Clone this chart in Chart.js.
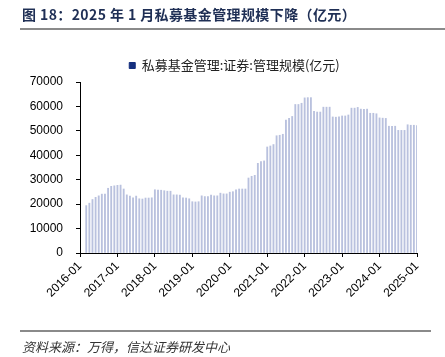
<!DOCTYPE html>
<html>
<head>
<meta charset="utf-8">
<script src="https://cdn.jsdelivr.net/npm/chart.js@4.4.1/dist/chart.umd.min.js"></script>
<style>
  html, body { margin: 0; padding: 0; background: #fff; }
  #wrap { position: relative; width: 445px; height: 357px; overflow: hidden; }
  #title { position: absolute; left: 22px; top: 4px; font: bold 14px "Noto Sans CJK SC", sans-serif; color: #1f2f55; white-space: nowrap; letter-spacing: 0.4px; }
  #topline { position: absolute; left: 20px; top: 28px; width: 425px; height: 2px; background: #8a8a8a; }
  #botline { position: absolute; left: 20px; top: 330px; width: 411px; height: 1.5px; background: #8a8a8a; }
  #source { position: absolute; left: 22px; top: 337px; font: italic 13px "Noto Sans CJK SC", sans-serif; color: #333; white-space: nowrap; }
  canvas { position: absolute; left: 0; top: 0; }
</style>
</head>
<body>
<div id="wrap">
  <canvas id="c" width="445" height="357"></canvas>
  <div id="title">图 18：2025 年 1 月私募基金管理规模下降（亿元）</div>
  <div id="topline"></div>
  <div id="botline"></div>
  <div id="source">资料来源：万得，信达证券研发中心</div>
</div>
<script>
// ---- data ----
const seriesName = "私募基金管理:证券:管理规模(亿元)";
const years = ["2016","2017","2018","2019","2020","2021","2022","2023","2024","2025"];
const monthNums = ["01","02","03","04","05","06","07","08","09","10","11","12"];
const tickLabels = ["2016-01","2017-01","2018-01","2019-01","2020-01","2021-01","2022-01","2023-01","2024-01","2025-01"];

const v2016 = [null, null, 19400, 20400, 21900, 22800, 23400, 24100, 24100, 26500, 27300, 27500];
const v2017 = [27700, 27800, 26200, 23800, 23300, 22600, 23300, 22200, 22100, 22500, 22500, 22600];
const v2018 = [25900, 25800, 25700, 25500, 25300, 25300, 23800, 23800, 23700, 22600, 22500, 22200];
const v2019 = [21000, 20900, 21000, 23400, 23100, 23100, 23700, 23400, 23400, 24500, 24200, 24200];
const v2020 = [24900, 25100, 25900, 26200, 26200, 26200, 30700, 31400, 31800, 36700, 37400, 37700];
const v2021 = [43400, 43800, 44400, 48000, 48200, 48600, 54400, 55100, 55900, 60800, 60800, 61300];
const v2022 = [63500, 63600, 63600, 58000, 57700, 57700, 59700, 59700, 59700, 55700, 55600, 55700];
const v2023 = [56100, 56100, 56500, 59300, 59300, 59600, 58900, 58800, 58900, 57200, 57200, 57000];
const v2024 = [55300, 55200, 55100, 51900, 51900, 51900, 50200, 50200, 50200, 52500, 52300, 52300];
const v2025 = [52200];

// ---- build tables for the library ----
const yearValues = [v2016, v2017, v2018, v2019, v2020, v2021, v2022, v2023, v2024, v2025];
const categories = [];
const values = [];
years.forEach((y, yi) => {
  yearValues[yi].forEach((val, mi) => {
    categories.push(y + "-" + monthNums[mi]);
    values.push(val);
  });
});

const shiftLegend = {
  id: "shiftLegend",
  afterLayout(chart) {
    if (chart.legend) { chart.legend.left += 16; chart.legend.right += 16; }
  }
};

const chart = new Chart(document.getElementById("c"), {
  type: "bar",
  data: {
    labels: categories,
    datasets: [{
      label: seriesName,
      data: values,
      backgroundColor: "#b9c1de",
      borderWidth: 0,
      barThickness: 1.2
    }]
  },
  plugins: [shiftLegend],
  options: {
    responsive: false,
    animation: false,
    devicePixelRatio: 1,
    layout: { padding: { left: 20, right: 28, top: 55, bottom: 0 } },
    plugins: {
      tooltip: { enabled: false },
      legend: {
        display: true,
        position: "top",
        labels: {
          font: { family: "'Noto Sans CJK SC', sans-serif", size: 13 },
          color: "#222",
          boxWidth: 6,
          boxHeight: 6,
          padding: 4,
          generateLabels: () => [{
            text: seriesName,
            fillStyle: "#152f7e",
            strokeStyle: "#152f7e",
            lineWidth: 1,
            hidden: false,
            datasetIndex: 0,
            fontColor: "#222"
          }]
        }
      }
    },
    scales: {
      x: {
        type: "category",
        offset: false,
        grid: {
          offset: false,
          drawOnChartArea: false,
          drawTicks: true,
          tickLength: 4,
          color: (ctx) => {
            const lbl = categories[ctx.index];
            return lbl && tickLabels.includes(lbl) ? "#000" : "rgba(0,0,0,0)";
          }
        },
        border: { display: true, color: "#000", width: 1 },
        ticks: {
          autoSkip: false,
          maxRotation: 45,
          minRotation: 45,
          padding: 2,
          color: "#000",
          font: { family: "'Liberation Sans', Arial, sans-serif", size: 12 },
          callback: (val, idx) => tickLabels.includes(categories[idx]) ? categories[idx] : ""
        },
        afterFit: (s) => { s.height = 104; }
      },
      y: {
        min: 0,
        max: 70000,
        grid: {
          drawOnChartArea: false,
          drawTicks: true,
          tickLength: 4,
          color: "#000"
        },
        border: { display: true, color: "#000", width: 1 },
        ticks: {
          stepSize: 10000,
          padding: 13,
          color: "#000",
          font: { family: "'Liberation Sans', Arial, sans-serif", size: 12 },
          callback: (v) => String(v)
        },
        afterFit: (s) => { s.width = 60; }
      }
    }
  }
});
</script>
</body>
</html>
